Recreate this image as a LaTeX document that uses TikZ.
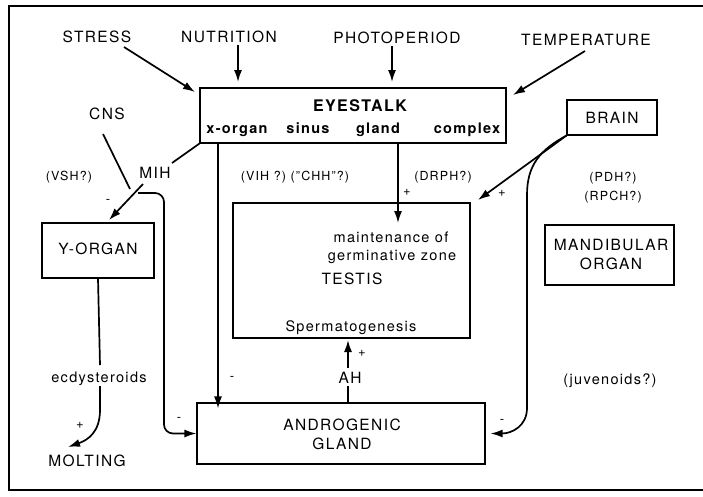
\documentclass[tikz,border=0pt]{standalone}
\usepackage{fontspec}
\setmainfont{TeX Gyre Heros}[LetterSpace=9]
\usetikzlibrary{arrows.meta}
\tikzset{
  big/.style={inner sep=0pt,font=\fontsize{15.5}{18}\selectfont},
  lab/.style={inner sep=0pt,font=\fontsize{14.5}{17}\selectfont},
  sm/.style={inner sep=0pt,font=\fontsize{12.5}{15}\selectfont},
  sgn/.style={inner sep=0pt,font=\fontsize{13}{15}\selectfont},
  boxn/.style={draw,line width=1.1pt,inner sep=0pt},
  con/.style={line width=1.7pt},
  arr/.style={con,-{Latex[length=12pt,width=8pt]}},
}
\begin{document}
\begin{tikzpicture}[x=1pt,y=-1pt]
\useasboundingbox (0,0) rectangle (703,496);
% frame
\draw[line width=1.6pt] (710,6) -- (9,6) -- (9,490) -- (710,490);

% boxes
\node[boxn,minimum width=306pt,minimum height=55pt] (eye) at (353,115.5) {};
\node[boxn,minimum width=90pt,minimum height=35pt] (brain) at (612,117.5) {};
\node[boxn,minimum width=112pt,minimum height=55pt] (yorg) at (98,250.5) {};
\node[boxn,minimum width=237pt,minimum height=135pt] (testis) at (351.5,270.5) {};
\node[boxn,minimum width=288pt,minimum height=61pt] (gland) at (341,433.5) {};
\node[boxn,minimum width=129pt,minimum height=60pt] (mand) at (609.5,255) {};

% texts
\node[big] (stress) at (97,37) {STRESS};
\node[big] (nutr) at (229,37) {NUTRITION};
\node[big] (photo) at (397,38) {PHOTOPERIOD};
\node[big] (temp) at (586,40) {TEMPERATURE};
\node[big,font=\fontsize{16}{18}\bfseries] (eyet) at (360,106) {EYESTALK};
\node[lab,font=\fontsize{14.5}{17}\bfseries,anchor=base] (xo) at (237,133) {x-organ};
\node[lab,font=\fontsize{14.5}{17}\bfseries,anchor=base] (sin) at (308,133) {sinus};
\node[lab,font=\fontsize{14.5}{17}\bfseries,anchor=base] (gl) at (378,133) {gland};
\node[lab,font=\fontsize{14.5}{17}\bfseries,anchor=base] (cx) at (467,133) {complex};
\node[big] (brt) at (612,118) {BRAIN};
\node[big] (cns) at (107,114) {CNS};
\node[big] (mih) at (155,173) {MIH};
\node[sm] (vsh) at (69,177) {(VSH?)};
\node[sm] (vih) at (295,177) {(VIH ?) ("CHH"?)};
\node[sm] (drph) at (443,177) {(DRPH?)};
\node[sm] (pdh) at (613,178) {(PDH?)};
\node[sm] (rpch) at (613,197) {(RPCH?)};
\node[big] (yot) at (98,249) {Y-ORGAN};
\node[lab,anchor=base] (mnt) at (391,242) {maintenance of};
\node[lab,anchor=base] (germ) at (392,260) {germinative zone};
\node[big] (tst) at (352,279) {TESTIS};
\node[lab,anchor=base] (sperm) at (351,331) {Spermatogenesis};
\node[big] (mt1) at (611,245) {MANDIBULAR};
\node[big] (mt2) at (611,264) {ORGAN};
\node[lab,anchor=base] (ecd) at (99,382) {ecdysteroids};
\node[big] (ah) at (350,378) {AH};
\node[lab] (juv) at (610,381) {(juvenoids?)};
\node[big] (gt1) at (342,425) {ANDROGENIC};
\node[big] (gt2) at (342,444) {GLAND};
\node[big] (molt) at (87,461) {MOLTING};

% signs
\node[sgn] (p1) at (407,192) {+};
\node[sgn] (p2) at (502,193) {+};
\node[sgn] (p3) at (362,353) {+};
\node[sgn] (p4) at (80,425) {+};
\node[sgn] (m1) at (108,201) {-};
\node[sgn] (m2) at (232,378) {-};
\node[sgn] (m3) at (179,419) {-};
\node[sgn] (m4) at (502,421) {-};

% coordinates for connector ends
\coordinate (stressE) at (124,47);
\coordinate (stressT) at (195,92);
\coordinate (tempS) at (585,51);
\coordinate (tempT) at (513,95);
\coordinate (cnsA) at (103,134);
\coordinate (cnsB) at (130,189);
\coordinate (mihA) at (172,163);
\coordinate (yoA) at (143,184);
\coordinate (yoT) at (109,220);
\coordinate (loopA) at (138,193);
\coordinate (eA) at (218,143);
\coordinate (dA) at (398,143);
\coordinate (dT) at (398,223);
\coordinate (brT) at (478,200);
\coordinate (moltT) at (68,447);

% connectors
\draw[arr] (stressE) -- (stressT);
\draw[arr] (nutr.south -| 238,0) ++(0,2) -- (238,82);
\draw[arr] (photo.south -| 392,0) ++(0,2) -- (392,82);
\draw[arr] (tempS) -- (tempT);
\draw[con] (cnsA) -- (cnsB);
\draw[con] (eye.south west) -- (mihA);
\draw[arr] (yoA) -- (yoT);
\draw[arr,rounded corners=9pt] (loopA) -- (164,193) -- (164,433.5) -- (gland.west);
\draw[arr] (eA) -- ([yshift=-6pt]gland.north -| eA);
\draw[arr] (dA) -- (dT);
\draw[arr] (brain.south west) -- (brT);
\draw[arr] (brain.south west) .. controls (540,150) and (527,165) .. (527,195)
   -- (527,408) .. controls (527,426) and (512,433.5) .. ([xshift=5pt]gland.east);
\draw[con] (yorg.south) -- (100,365);
\draw[arr] (100,386) -- (100,410) .. controls (100,432) and (88,440) .. (moltT);
\draw[con] (gland.north -| 348,0) -- (348,386);
\draw[arr] (348,368) -- (348,340);
\end{tikzpicture}
\end{document}
